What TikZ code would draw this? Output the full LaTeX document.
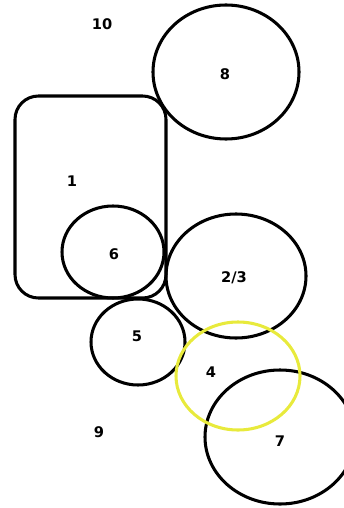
\documentclass[tikz,border=0pt]{standalone}
\usepackage{fontspec}
\setmainfont{DejaVu Sans}
\definecolor{hiyellow}{RGB}{232,234,60}
\tikzset{
  region/.style={line width=2.6pt},
  tag/.style={font=\fontsize{12.5}{14}\selectfont\bfseries}
}
\begin{document}
\begin{tikzpicture}[x=0.03cm,y=-0.03cm]
  \useasboundingbox (0,0) rectangle (344,508);
  % regions
  \draw[region,rounded corners=20] (15,96) rectangle (166,298);
  \draw[region] (226,72) ellipse (73 and 67);
  \draw[region] (113,252) ellipse (51 and 46);
  \draw[region] (236,276) ellipse (70 and 62);
  \draw[region] (138,342) ellipse (47 and 43);
  \draw[region] (280,437) ellipse (75 and 67);
  \draw[region,hiyellow] (238,376) ellipse (62 and 54);
  % labels
  \node[tag] (t10) at (102,24) {10};
  \node[tag] (t8) at (225,74) {8};
  \node[tag] (t1) at (72,181) {1};
  \node[tag] (t6) at (114,254) {6};
  \node[tag] (t23) at (234,278) {2/3};
  \node[tag] (t5) at (137,336) {5};
  \node[tag] (t4) at (211,372) {4};
  \node[tag] (t9) at (99,432) {9};
  \node[tag] (t7) at (280,441) {7};
\end{tikzpicture}
\end{document}
